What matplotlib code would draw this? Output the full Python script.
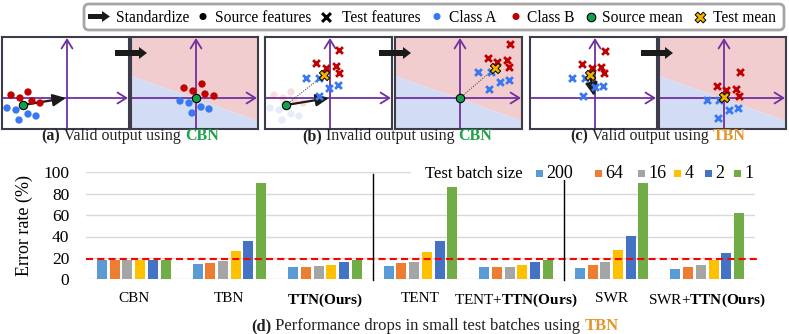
import matplotlib
matplotlib.use("Agg")
import matplotlib.pyplot as plt
import numpy as np
from matplotlib.patches import FancyArrow, FancyBboxPatch, Polygon, Rectangle

plt.rcParams["font.family"] = "Liberation Serif"
plt.rcParams["mathtext.fontset"] = "custom"
plt.rcParams["mathtext.rm"] = "Liberation Serif"
plt.rcParams["mathtext.bf"] = "Liberation Serif:bold"

W, H = 789, 334

# ---- feature panels: points relative to the purple axes origin (px units) ----
src_red = [(-56, 3), (-47, 0), (-39, 6), (-35, -3), (-27, -5)]
src_blue = [(-60, -10), (-51, -12), (-48, -22), (-39, -16), (-31, -18)]
src_mean = (-44, -7)
a_std_red = [(-12, 10), (-3, 7), (6, 14), (9, 4), (18, 2)]
a_std_blue = [(-16, -3), (-7, -5), (-4, -15), (5, -9), (13, -11)]

b_test_red = [(9, 48), (-14, 35), (-4, 30), (6, 32), (9, 25)]
b_test_blue = [(-24, 20), (-11, 20), (-1, 10), (8, 13), (-11, 2)]
b_test_mean = (-6, 23)
b_std_red = [(50, 54), (28, 40), (37, 36), (47, 38), (49, 31)]
b_std_blue = [(18, 26), (31, 26), (40, 16), (49, 18), (29, 9)]
b_std_mean = (35, 30)

c_test_red = [(10, 47), (-13, 34), (-3, 30), (6, 31), (9, 25)]
c_test_blue = [(-23, 20), (-10, 20), (0, 11), (8, 12), (-12, 2)]
c_test_mean = (-5, 23)
c_std_red = [(16, 26), (-7, 12), (2, 8), (12, 9), (15, 2)]
c_std_blue = [(-17, -2), (-5, -2), (5, -12), (14, -10), (-6, -20)]
c_std_mean = (0, 1)

boundary = [(-65, 22), (62, -23)]

# ---- bar chart ----
methods = ["CBN", "TBN", r"$\mathbf{TTN(Ours)}$", "TENT",
           r"TENT+$\mathbf{TTN(Ours)}$", "SWR", r"SWR+$\mathbf{TTN(Ours)}$"]
batch_sizes = ["200", "64", "16", "4", "2", "1"]
err_200 = [18.0, 14.6, 11.5, 12.1, 11.2, 10.3, 10.0]
err_64 = [18.0, 15.2, 11.5, 15.0, 11.2, 13.8, 11.8]
err_16 = [18.0, 17.4, 12.0, 16.6, 11.8, 16.6, 13.8]
err_4 = [18.0, 26.4, 13.8, 25.9, 13.8, 27.5, 18.3]
err_2 = [18.0, 35.8, 16.0, 35.9, 16.0, 40.8, 24.5]
err_1 = [18.0, 90.3, 18.5, 86.0, 18.3, 90.3, 62.0]
cbn_level = 19

bar_colors = ["#5b9bd5", "#ed7d31", "#a5a5a5", "#ffc000", "#4472c4", "#70ad47"]
red = "#c00000"
blue = "#3a78f2"
green = "#12a04c"
gold = "#f2b400"
purple = "#7030a0"
pink_bg = "#f2cdcf"
blue_bg = "#d2dcf4"
cbn_color = "#1fa34a"
tbn_color = "#e3952a"

fig = plt.figure(figsize=(W / 100, H / 100), dpi=100)
fig.patch.set_facecolor("white")


def px_rect(x0, y0, w, h):
    return [x0 / W, 1 - (y0 + h) / H, w / W, h / H]


def panel(x0, y0, shaded=False):
    ax = fig.add_axes(px_rect(x0, y0, 127, 92))
    ax.set_xlim(-65, 62)
    ax.set_ylim(-31, 61)
    ax.set_xticks([])
    ax.set_yticks([])
    for s in ax.spines.values():
        s.set_color("#3c3c4c")
        s.set_linewidth(1.5)
        s.set_zorder(6)
    if shaded:
        (bx0, by0), (bx1, by1) = boundary
        ax.add_patch(Polygon([(bx0, by0), (bx1, by1), (bx1, 61), (bx0, 61)],
                             closed=True, fc=pink_bg, ec="none", zorder=0))
        ax.add_patch(Polygon([(bx0, by0), (bx1, by1), (bx1, -31), (bx0, -31)],
                             closed=True, fc=blue_bg, ec="none", zorder=0))
    kw = dict(arrowstyle="->,head_length=0.45,head_width=0.28", color=purple,
              lw=1.3, mutation_scale=14, shrinkA=0, shrinkB=0)
    ax.annotate("", xy=(61, 0), xytext=(-65, 0), arrowprops=kw, zorder=2)
    ax.annotate("", xy=(0, 60), xytext=(0, -31), arrowprops=kw, zorder=2)
    return ax


def dots(ax, pts, color, alpha=1.0):
    p = np.array(pts)
    ax.scatter(p[:, 0], p[:, 1], s=28, c=color, edgecolors="none", alpha=alpha, zorder=4)


def crosses(ax, pts, color):
    p = np.array(pts)
    ax.scatter(p[:, 0], p[:, 1], s=24, c=color, marker="x", linewidths=2, zorder=4)


def src_mean_dot(ax, pt):
    ax.scatter([pt[0]], [pt[1]], s=36, c=green, edgecolors="black", linewidths=0.8, zorder=5)


def test_mean_x(ax, pt):
    ax.scatter([pt[0]], [pt[1]], s=55, c=gold, marker="X", edgecolors="black",
               linewidths=0.7, zorder=5)


def move_arrow(ax, start, end):
    ax.annotate("", xy=end, xytext=start, zorder=3,
                arrowprops=dict(arrowstyle="-|>,head_length=0.6,head_width=0.28",
                                color="#1a1a1a", lw=1.6, mutation_scale=13,
                                shrinkA=0, shrinkB=0))


def dotted(ax, start, end):
    ax.plot([start[0], end[0]], [start[1], end[1]], ls=(0, (1, 1.2)),
            color="#555555", lw=0.8, zorder=3)


# (a)
ax = panel(2, 37)
dots(ax, src_red, red)
dots(ax, src_blue, blue)
move_arrow(ax, src_mean, (-1, 0))
src_mean_dot(ax, src_mean)

ax = panel(131, 37, shaded=True)
dots(ax, a_std_red, red)
dots(ax, a_std_blue, blue)
src_mean_dot(ax, (0, 0))

# (b)
ax = panel(265, 37)
dots(ax, src_red, red, alpha=0.13)
dots(ax, src_blue, blue, alpha=0.13)
crosses(ax, b_test_red, red)
crosses(ax, b_test_blue, blue)
dotted(ax, src_mean, b_test_mean)
move_arrow(ax, src_mean, (-1, 0))
src_mean_dot(ax, src_mean)
test_mean_x(ax, b_test_mean)

ax = panel(395, 37, shaded=True)
crosses(ax, b_std_red, red)
crosses(ax, b_std_blue, blue)
dotted(ax, (0, 0), b_std_mean)
src_mean_dot(ax, (0, 0))
test_mean_x(ax, b_std_mean)

# (c)
ax = panel(530, 37)
crosses(ax, c_test_red, red)
crosses(ax, c_test_blue, blue)
move_arrow(ax, c_test_mean, (-1, 2))
test_mean_x(ax, c_test_mean)

ax = panel(659, 37, shaded=True)
crosses(ax, c_std_red, red)
crosses(ax, c_std_blue, blue)
test_mean_x(ax, c_std_mean)

# ---- bar chart ----
axb = fig.add_axes(px_rect(86, 172.3, 669, 107))
x = np.arange(len(methods))
series = [err_200, err_64, err_16, err_4, err_2, err_1]
for k, vals in enumerate(series):
    axb.bar(x + (k - 2.5) * 0.133, vals, width=0.105, color=bar_colors[k],
            label=batch_sizes[k], zorder=2)
axb.set_xlim(-0.5, len(methods) - 0.5)
axb.set_ylim(0, 100)
axb.set_yticks(range(0, 101, 20))
axb.set_xticks(x)
axb.set_xticklabels(methods, fontsize=11)
axb.tick_params(axis="x", length=0, pad=9)
axb.tick_params(axis="y", length=0, pad=12, labelsize=12.5)
axb.set_axisbelow(True)
axb.grid(axis="y", color="#d9d9d9", lw=1)
for s in axb.spines.values():
    s.set_visible(False)
axb.set_ylabel("Error rate (%)", fontsize=13)
axb.yaxis.set_label_coords(-0.079, 0.5)
axb.axhline(cbn_level, xmin=0, xmax=1.008, color="#ff0000", lw=1.5,
            ls=(0, (3.4, 2)), clip_on=False, zorder=3)
for sep in (2.5, 4.5):
    axb.axvline(sep, ymin=-0.01, ymax=0.985, color="black", lw=1, clip_on=False, zorder=3)

# overlay for figure-level decorations (pixel coordinates)
ov = fig.add_axes([0, 0, 1, 1], zorder=10)
ov.set_xlim(0, W)
ov.set_ylim(H, 0)
ov.axis("off")
ov.patch.set_alpha(0)

# bar legend (white strip hides the top gridline behind it)
ov.add_patch(Rectangle((411, 165), 346, 15, fc="white", ec="none"))
ov.text(425, 178, "Test batch size", fontsize=12, va="baseline", ha="left")
legend_x = [536, 595, 638, 674, 705, 734]
for lx, col, lab in zip(legend_x, bar_colors, batch_sizes):
    ov.add_patch(Rectangle((lx, 170), 7, 7, fc=col, ec="none"))
    ov.text(lx + 10.5, 178.5, lab, fontsize=13, va="baseline", ha="left")

# big standardize arrows
for ax0 in (115, 379, 641):
    ov.add_patch(FancyArrow(ax0, 53, 32, 0, width=6, head_width=12, head_length=8,
                            length_includes_head=True, color="#1a1a1a", lw=0))

# top legend box
ov.add_patch(FancyBboxPatch((84, 4), 700, 26, boxstyle="round,pad=0,rounding_size=5",
                            fc="white", ec="#a6a6a6", lw=2))
ov.add_patch(FancyArrow(88, 16.5, 22, 0, width=5, head_width=11, head_length=8,
                        length_includes_head=True, color="#1a1a1a", lw=0))
ov.scatter([203], [16.5], s=26, c="black", edgecolors="none")
ov.scatter([326], [16.5], s=40, c="black", marker="x", linewidths=2.2)
ov.scatter([437], [16.5], s=26, c=blue, edgecolors="none")
ov.scatter([516], [16.5], s=26, c=red, edgecolors="none")
ov.scatter([591], [16.5], s=38, c=green, edgecolors="black", linewidths=0.8)
ov.scatter([700], [16.5], s=60, c=gold, marker="X", edgecolors="black", linewidths=0.7)
legend_items = [(116, "Standardize"), (215, "Source features"), (342, "Test features"),
                (449, "Class A"), (527, "Class B"), (602, "Source mean"), (713, "Test mean")]
for lx, lab in legend_items:
    ov.text(lx, 21.5, lab, fontsize=11.2, ha="left", va="baseline")


def caption(cx, y, parts, size):
    texts = []
    prev = None
    for s, weight, color in parts:
        if prev is None:
            t = ov.text(cx, y, s, fontsize=size, fontweight=weight, color=color,
                        ha="left", va="baseline")
        else:
            t = ov.annotate(s, xy=(1, 0), xycoords=prev, fontsize=size,
                            fontweight=weight, color=color, ha="left", va="bottom")
        texts.append(t)
        prev = t
    return texts


captions = [
    (130, 140.5, 11.5, [("(a)", "bold", "#222222"), (" Valid output using ", "normal", "#222222"),
                        ("CBN", "bold", cbn_color)]),
    (397, 140.5, 11.5, [("(b)", "bold", "#222222"), (" Invalid output using ", "normal", "#222222"),
                        ("CBN", "bold", cbn_color)]),
    (658, 140.5, 11.5, [("(c)", "bold", "#222222"), (" Valid output using ", "normal", "#222222"),
                        ("TBN", "bold", tbn_color)]),
    (435, 330, 12, [("(d)", "bold", "#222222"),
                    (" Performance drops in small test batches using ", "normal", "#222222"),
                    ("TBN", "bold", tbn_color)]),
]
groups = []
for cx, cy, size, parts in captions:
    groups.append((cx, caption(cx, cy, parts, size)))

fig.canvas.draw()
for cx, texts in groups:
    x0 = texts[0].get_window_extent().x0
    x1 = texts[-1].get_window_extent().x1
    texts[0].set_x(cx - (x1 - x0) / 2)

fig.savefig("out.png", dpi=100, facecolor="white")
